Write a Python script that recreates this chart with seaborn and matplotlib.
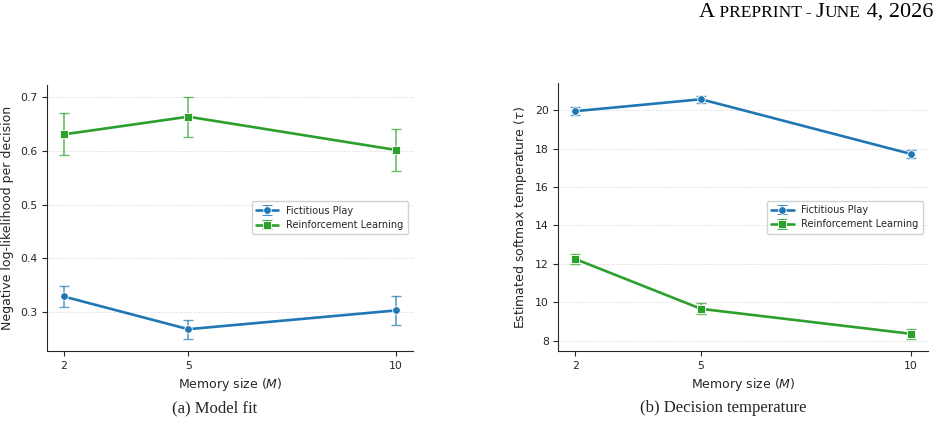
import numpy as np
import pandas as pd
import matplotlib
matplotlib.use("Agg")
import matplotlib.pyplot as plt
import seaborn as sns
from matplotlib.offsetbox import TextArea, HPacker, AnchoredOffsetbox

memory = [2, 5, 10]
models = ["Fictitious Play", "Reinforcement Learning"]

nll_fp = [0.329, 0.268, 0.303]
nll_fp_err = [0.019, 0.018, 0.027]
nll_rl = [0.631, 0.664, 0.602]
nll_rl_err = [0.039, 0.037, 0.040]

tau_fp = [19.95, 20.57, 17.72]
tau_fp_err = [0.20, 0.19, 0.23]
tau_rl = [12.25, 9.65, 8.35]
tau_rl_err = [0.28, 0.29, 0.26]

colors = {"Fictitious Play": "#1f77b4", "Reinforcement Learning": "#2ca02c"}
markers = {"Fictitious Play": "o", "Reinforcement Learning": "s"}

sns.set_style("ticks")
plt.rcParams["font.family"] = ["DejaVu Sans"]

fig = plt.figure(figsize=(9.4, 4.28), dpi=100)
ax1 = fig.add_axes([0.050, 0.180, 0.389, 0.622])
ax2 = fig.add_axes([0.594, 0.180, 0.393, 0.625])


def panel(ax, fp, fp_err, rl, rl_err, ylabel, yticks):
    df = pd.DataFrame({
        "M": memory * 2,
        "value": fp + rl,
        "model": [models[0]] * 3 + [models[1]] * 3,
    })
    sns.lineplot(data=df, x="M", y="value", hue="model", style="model",
                 palette=colors, markers=markers, dashes=False,
                 linewidth=1.9, markersize=5.5, markeredgecolor="white",
                 markeredgewidth=0.6, legend=False, ax=ax, zorder=3)
    handles = []
    for name, vals, errs in [(models[0], fp, fp_err), (models[1], rl, rl_err)]:
        ax.errorbar(memory, vals, yerr=errs, fmt="none", ecolor=colors[name],
                    elinewidth=1.2, capsize=3.5, capthick=1.0, alpha=0.7, zorder=2)
        h = ax.errorbar([np.nan], [np.nan], yerr=[0.0], fmt="-" + markers[name],
                        color=colors[name], lw=1.9, ms=5.5, mec="white", mew=0.6,
                        elinewidth=1.2, capsize=3.5, capthick=1.0, label=name)
        handles.append(h)
    ax.set_xticks(memory)
    ax.set_yticks(yticks)
    ax.set_xlabel("Memory size ($M$)", fontsize=9)
    ax.set_ylabel(ylabel, fontsize=9)
    ax.tick_params(labelsize=7.8, length=3.5, width=0.8)
    ax.yaxis.grid(True, linestyle="--", linewidth=0.6, color="#dddddd", alpha=0.8)
    ax.set_axisbelow(True)
    sns.despine(ax=ax)
    leg = ax.legend(handles=handles, loc="center right", fontsize=7,
                    frameon=True, framealpha=0.9, edgecolor="#cccccc",
                    borderpad=0.45, handlelength=2.3, labelspacing=0.45)
    return leg


panel(ax1, nll_fp, nll_fp_err, nll_rl, nll_rl_err,
      "Negative log-likelihood per decision", [0.3, 0.4, 0.5, 0.6, 0.7])
panel(ax2, tau_fp, tau_fp_err, tau_rl, tau_rl_err,
      "Estimated softmax temperature ($\\tau$)", [8, 10, 12, 14, 16, 18, 20])
ax1.set_yticklabels(["0.3", "0.4", "0.5", "0.6", "0.7"])

serif = "Liberation Serif"
fig.text(215 / 940, 1 - 408 / 428, "(a) Model fit", ha="center", va="center",
         fontsize=12, family=serif)
fig.text(723 / 940, 1 - 408 / 428, "(b) Decision temperature", ha="center",
         va="center", fontsize=12, family=serif)

big, small = 16, 12.5
parts = [("A", big), (" PREPRINT - ", small), ("J", big), ("UNE", small), (" 4, 2026", big)]
areas = [TextArea(t, textprops=dict(fontsize=s, family=serif, color="black")) for t, s in parts]
pack = HPacker(children=areas, align="baseline", pad=0, sep=0)
anch = AnchoredOffsetbox(loc="upper right", child=pack, pad=0, frameon=False,
                         bbox_to_anchor=(933 / 940, 1 - 3 / 428),
                         bbox_transform=fig.transFigure, borderpad=0)
fig.add_artist(anch)

fig.savefig("out.png", dpi=100)
